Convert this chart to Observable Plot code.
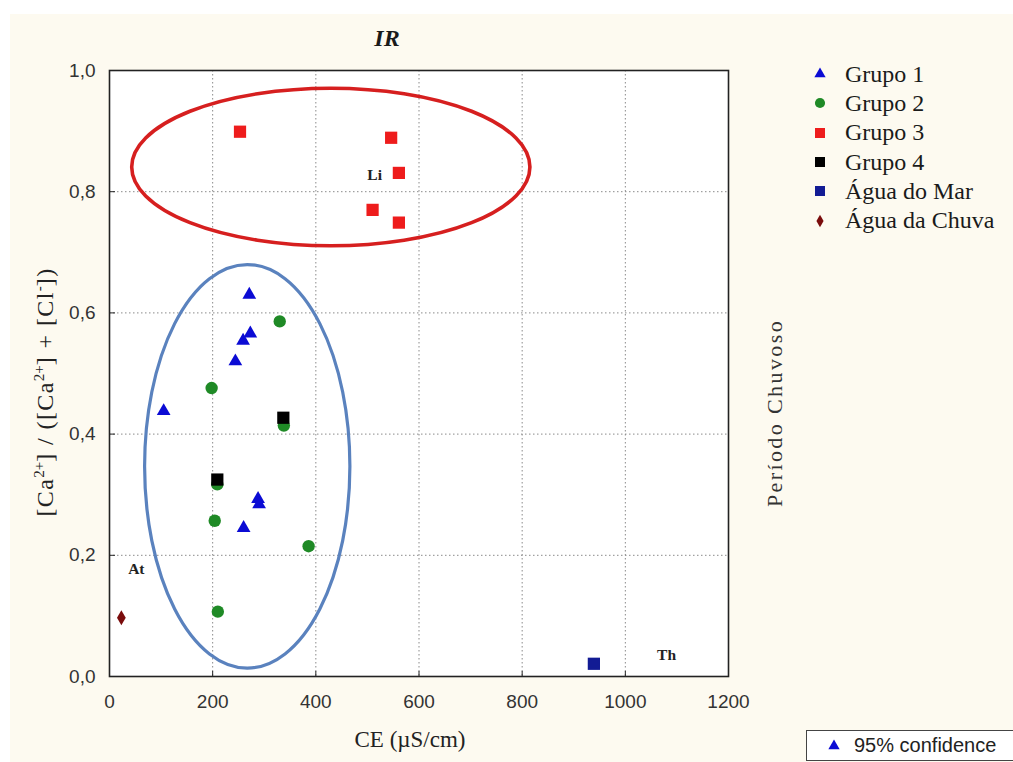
<!DOCTYPE html>
<html><head><meta charset="utf-8">
<script src="https://cdn.jsdelivr.net/npm/d3@7"></script>
<script src="https://cdn.jsdelivr.net/npm/@observablehq/plot@0.6"></script>
<style>
body{margin:0;background:#fff;}
#wrap{position:relative;width:1013px;height:762px;background:#fff;overflow:hidden;font-family:"Liberation Serif","Times New Roman",serif;color:#1a1a1a;}
#bg{position:absolute;left:10px;top:14px;right:0;bottom:0;background:#fdfaf0;}
#wrap svg.plot{position:absolute;left:0;top:0;}
.abs{position:absolute;white-space:nowrap;}
#title{left:387px;top:38px;transform:translate(-50%,-50%);font-weight:bold;font-style:italic;font-size:24px;}
#ylab{left:45px;top:392px;transform:translate(-50%,-50%) rotate(-90deg);font-size:24px;letter-spacing:1.4px;color:#222;}
#ylab sup{font-size:15px;vertical-align:9px;line-height:0;letter-spacing:0;}
#xlab{left:410px;top:740px;transform:translate(-50%,-50%);font-size:23px;color:#222;}
#side{left:775px;top:413px;transform:translate(-50%,-50%) rotate(-90deg);font-size:22px;letter-spacing:2.4px;color:#333;}
#legend{left:811px;top:59.5px;font-size:24px;}
#legend .row{display:flex;align-items:center;height:29.3px;}
#legend svg{width:18px;height:18px;margin-right:16px;}
#conf{left:806px;top:730px;width:220px;height:31px;border:1px solid #444;background:#fff;font-family:"Liberation Sans",Arial,sans-serif;font-size:20px;display:flex;align-items:center;box-sizing:border-box;color:#222;}
#conf svg{width:14px;height:14px;margin-left:20px;margin-right:13px;}
</style></head><body><div id="wrap"><div id="bg"></div></div><script>
// ---- data (CE in µS/cm, ratio [Ca]/([Ca]+[Cl])) ----
const grupo1CE    = [271, 273, 259, 244, 105, 288, 290, 260];
const grupo1Ratio = [0.630, 0.566, 0.554, 0.520, 0.438, 0.293, 0.284, 0.245];
const grupo2CE    = [330, 198, 338, 209, 204, 386, 210];
const grupo2Ratio = [0.586, 0.476, 0.414, 0.317, 0.257, 0.215, 0.107];
const grupo3CE    = [253, 546, 561, 510, 561];
const grupo3Ratio = [0.899, 0.889, 0.831, 0.770, 0.749];
const grupo4CE    = [337, 209];
const grupo4Ratio = [0.427, 0.325];
const marCE    = [939];
const marRatio = [0.021];
const chuvaCE    = [23];
const chuvaRatio = [0.097];
const labelText  = ["Li", "At", "Th"];
const labelCE    = [514, 52, 1080];
const labelRatio = [0.827, 0.178, 0.035];
// 95% confidence ellipses (centre and semi-axes in data units)
const ellipseCE      = [430, 268];
const ellipseRatio   = [0.840, 0.346];
const ellipseRadCE   = [386, 199];
const ellipseRadRat  = [0.130, 0.333];
const ellipseColor   = ["#d61f1f", "#5a82be"];
const xTicks = [0, 200, 400, 600, 800, 1000, 1200];
const yTicks = [0, 0.2, 0.4, 0.6, 0.8, 1.0];

const groups = [
  {name:"Grupo 1", xs:grupo1CE, ys:grupo1Ratio, symbol:"triangle", fill:"#0b0bd4", r:5.1},
  {name:"Grupo 2", xs:grupo2CE, ys:grupo2Ratio, symbol:"circle", fill:"#1f8a26", r:6.2},
  {name:"Grupo 3", xs:grupo3CE, ys:grupo3Ratio, symbol:"square", fill:"#ee1c1c", r:6.9},
  {name:"Grupo 4", xs:grupo4CE, ys:grupo4Ratio, symbol:"square", fill:"#000000", r:6.9},
  {name:"Água do Mar", xs:marCE, ys:marRatio, symbol:"square", fill:"#121b94", r:6.9},
  {name:"Água da Chuva", xs:chuvaCE, ys:chuvaRatio, symbol:"diamond", fill:"#7a0c0c", r:4.6}
];

const ellipses = ellipseCE.map((c, i) => ({cx:c, cy:ellipseRatio[i], rx:ellipseRadCE[i], ry:ellipseRadRat[i], color:ellipseColor[i]}));

function ellipseMark(index, scales) {
  const ns = "http://www.w3.org/2000/svg";
  const g = document.createElementNS(ns, "g");
  const x = scales.x, y = scales.y;
  ellipses.forEach((e, i) => {
    const el = document.createElementNS(ns, "ellipse");
    el.setAttribute("cx", x(e.cx));
    el.setAttribute("cy", y(e.cy));
    el.setAttribute("rx", Math.abs(x(e.cx + e.rx) - x(e.cx)));
    el.setAttribute("ry", Math.abs(y(e.cy + e.ry) - y(e.cy)));
    el.setAttribute("fill", "none");
    el.setAttribute("stroke", e.color);
    el.setAttribute("stroke-width", i === 0 ? 3.6 : 3.2);
    g.appendChild(el);
  });
  return g;
}

const W = 1013, H = 762, mL = 109, mR = 285, mT = 70, mB = 86;
const innerW = W - mL - mR, innerH = H - mT - mB;
const fmtY = d => d.toFixed(1).replace(".", ",");
const fmtX = d => String(d);

const labels = labelText.map((t, i) => ({t, x:labelCE[i], y:labelRatio[i]}));

const chart = Plot.plot({
  width: W, height: H,
  marginLeft: mL, marginRight: mR, marginTop: mT, marginBottom: mB,
  style: {background: "transparent", fontFamily: "'Liberation Sans', Arial, sans-serif", fontSize: "19px", color: "#333"},
  x: {domain: [0, 1200]},
  y: {domain: [0, 1]},
  marks: [
    Plot.frame({fill: "white", stroke: "none"}),
    Plot.gridX(xTicks.slice(1, -1), {stroke: "#8a8a8a", strokeOpacity: 1, strokeDasharray: "1.5,2.5"}),
    Plot.gridY(yTicks.slice(1, -1), {stroke: "#8a8a8a", strokeOpacity: 1, strokeDasharray: "1.5,2.5"}),
    Plot.tickX(xTicks, {x: d => d, stroke: "#222", insetTop: innerH - 5}),
    Plot.tickY(yTicks, {y: d => d, stroke: "#222", insetRight: innerW - 6}),
    Plot.axisX(xTicks, {tickSize: 0, tickPadding: 18, label: null, tickFormat: fmtX, fill: "#333", fontSize: 19}),
    Plot.axisY(yTicks, {tickSize: 0, tickPadding: 14, label: null, tickFormat: fmtY, fill: "#333", fontSize: 19}),
    ...groups.map(g => Plot.dot(g.xs.map((x, i) => ({x, y: g.ys[i]})), {
      x: "x", y: "y", symbol: () => g.symbol, fill: g.fill, stroke: "none", r: g.r
    })),
    ellipseMark,
    Plot.text(labels, {x: "x", y: "y", text: "t", fontFamily: "'Liberation Serif', serif", fontWeight: "bold", fontSize: 15.5, fill: "#222"}),
    Plot.frame({stroke: "#222", strokeWidth: 1.6})
  ]
});
chart.classList.add("plot");
const wrap = document.getElementById("wrap");
wrap.appendChild(chart);

function addDiv(id, html) {
  const d = document.createElement("div");
  d.id = id; d.className = "abs"; d.innerHTML = html;
  wrap.appendChild(d);
  return d;
}
addDiv("title", "IR");
addDiv("ylab", "[Ca<sup>2+</sup>] / ([Ca<sup>2+</sup>] + [Cl<sup>-</sup>])");
addDiv("xlab", "CE (µS/cm)");
addDiv("side", "Período Chuvoso");

const symMap = {triangle: d3.symbolTriangle, circle: d3.symbolCircle, square: d3.symbolSquare, diamond: d3.symbolDiamond};
function symSvg(sym, fill, r, box) {
  const p = d3.symbol(symMap[sym], Math.PI * r * r)();
  return `<svg viewBox="${-box/2} ${-box/2} ${box} ${box}"><path d="${p}" fill="${fill}"/></svg>`;
}
addDiv("legend", groups.map(g =>
  `<div class="row">${symSvg(g.symbol, g.fill, g.r * 0.82, 18)}<span>${g.name}</span></div>`).join(""));
addDiv("conf", `${symSvg("triangle", "#0b0bd4", 4.2, 14)}<span>95% confidence</span>`);
</script></body></html>
